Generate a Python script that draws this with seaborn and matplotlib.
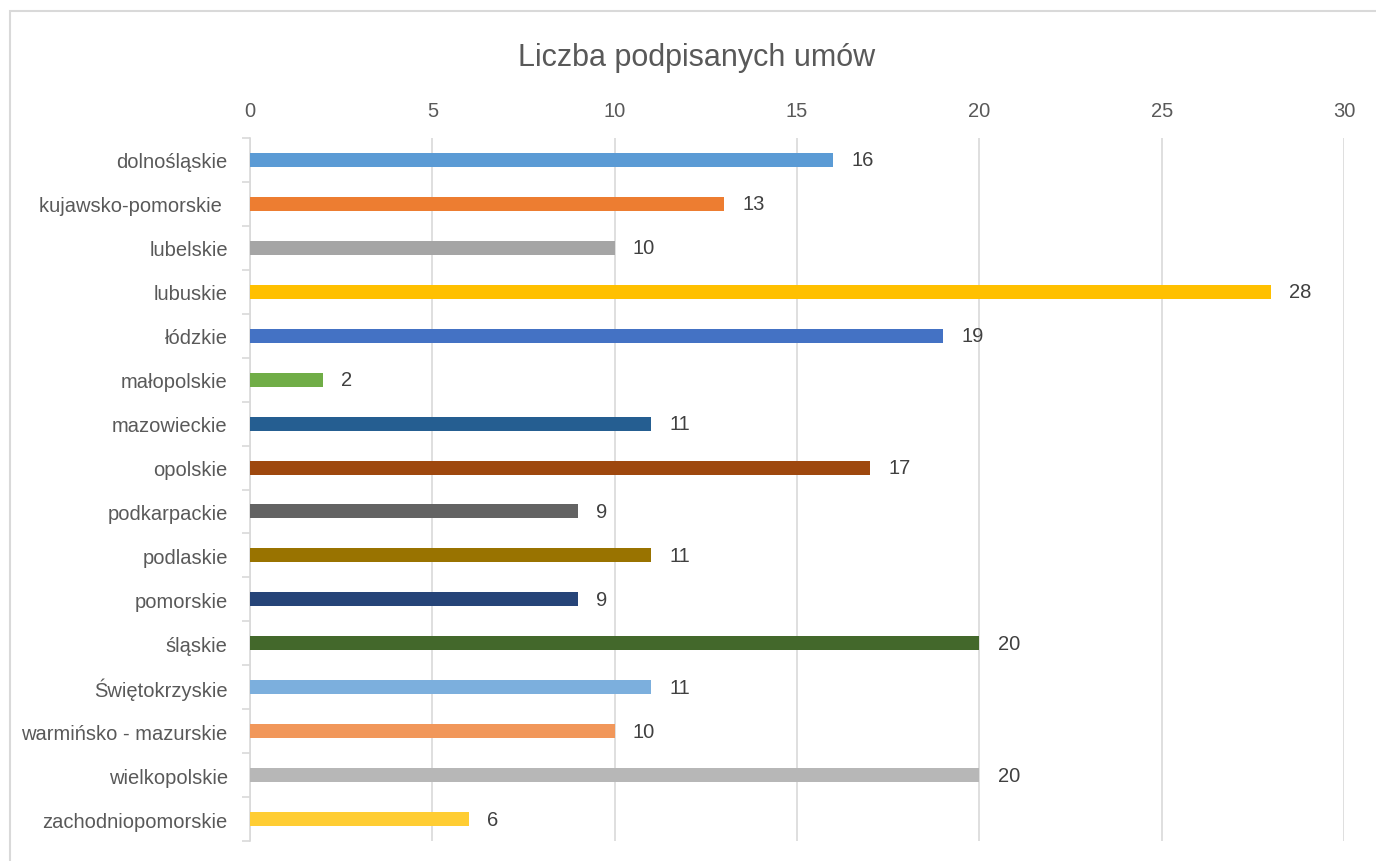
import matplotlib
matplotlib.use("Agg")
import matplotlib.pyplot as plt
import matplotlib.patches as mpatches
import pandas as pd
import seaborn as sns

# Data
regions = [
    "dolnośląskie", "kujawsko-pomorskie ", "lubelskie", "lubuskie", "łódzkie",
    "małopolskie", "mazowieckie", "opolskie", "podkarpackie", "podlaskie",
    "pomorskie", "śląskie", "Świętokrzyskie", "warmińsko - mazurskie",
    "wielkopolskie", "zachodniopomorskie",
]
contracts = [16, 13, 10, 28, 19, 2, 11, 17, 9, 11, 9, 20, 11, 10, 20, 6]
bar_colors = [
    "#5B9BD5", "#ED7D31", "#A5A5A5", "#FFC000", "#4472C4", "#70AD47",
    "#255E91", "#9E480E", "#636363", "#997300", "#264478", "#43682B",
    "#7CAFDD", "#F1975A", "#B7B7B7", "#FFCD33",
]
x_ticks = [0, 5, 10, 15, 20, 25, 30]

df = pd.DataFrame({"region": regions, "umowy": contracts})

sns.set_style("white")
plt.rcParams["font.family"] = ["Liberation Sans", "DejaVu Sans"]

fig = plt.figure(figsize=(13.76, 8.62), dpi=100)
ax = fig.add_axes([250 / 1376, 1 - 842 / 862, (1344 - 250) / 1376, (842 - 139) / 862])

sns.barplot(data=df, y="region", x="umowy", hue="region", palette=bar_colors,
            saturation=1, width=0.32, legend=False, linewidth=0, ax=ax, zorder=3)

ax.set_xlim(0, 30)
ax.set_ylim(len(regions) - 0.5, -0.5)
ax.set_xticks(x_ticks)
ax.xaxis.tick_top()
ax.tick_params(axis="x", length=0, pad=13, labelsize=14.5, labelcolor="#595959")
ax.tick_params(axis="y", length=0, pad=16, labelsize=14.5, labelcolor="#595959")
ax.set_xlabel("")
ax.set_ylabel("")

# category separator ticks on the left spine
ax.set_yticks([i - 0.5 for i in range(len(regions) + 1)], minor=True)
ax.tick_params(axis="y", which="minor", left=True, length=6, color="#d9d9d9", width=1.2)

ax.grid(axis="x", color="#d9d9d9", linewidth=1.2, zorder=0)
ax.set_axisbelow(True)
for side in ["top", "right", "bottom"]:
    ax.spines[side].set_visible(False)
ax.spines["left"].set_color("#d9d9d9")
ax.spines["left"].set_linewidth(1.2)

for i, v in enumerate(contracts):
    ax.text(v + 0.5, i, str(v), va="center", ha="left", fontsize=14.5, color="#404040")

fig.text(697 / 1376, 1 - 58 / 862, "Liczba podpisanych umów", ha="center", va="center",
         fontsize=22, color="#595959")

# outer chart border
fig.patches.append(mpatches.Rectangle((10 / 1376, -0.05), 1.2, 1 - 12 / 862 + 0.05,
                                      transform=fig.transFigure, fill=False,
                                      edgecolor="#d9d9d9", linewidth=1.5))

fig.savefig("out.png", dpi=100)
